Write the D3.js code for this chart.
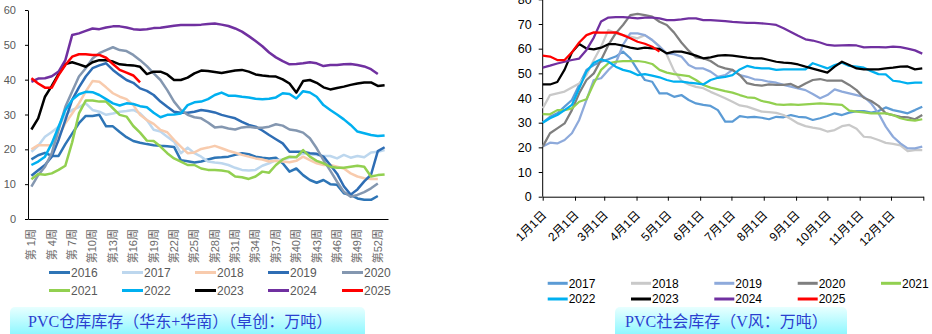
<!DOCTYPE html>
<html>
<head>
<meta charset="utf-8">
<script src="https://cdn.jsdelivr.net/npm/d3@7"></script>
<style>
  body { margin: 0; background: #fff; }
  svg { display: block; }
  text { font-family: "Liberation Sans", "Noto Sans CJK SC", sans-serif; }
</style>
</head>
<body>
<div id="chart"></div>
<script>
// ---- left chart data: PVC warehouse stock (east + south China), weekly, 10k t
const leftYears = ["2016", "2017", "2018", "2019", "2020", "2021", "2022", "2023", "2024", "2025"];
const weekLabels = ["第 1周", "第 4周", "第 7周", "第10周", "第13周", "第16周", "第19周", "第22周", "第25周",
  "第28周", "第31周", "第34周", "第37周", "第40周", "第43周", "第46周", "第49周", "第52周"];

const w2016 = [17.1,18.3,19.0,18.1,18.1,21.5,24.5,27.5,29.6,29.6,29.9,26.6,26.6,25.0,23.5,22.4,21.9,21.5,21.2,21.0,
  20.9,20.7,16.9,16.6,16.2,16.5,17.1,17.6,17.7,17.9,18.4,18.9,18.6,17.9,17.6,17.4,17.6,16.0,13.6,14.5,
  12.6,11.2,10.4,11.2,10.0,9.8,7.4,6.9,5.9,5.5,5.5,6.6];
const w2017 = [19.3,21.0,23.6,25.0,26.5,29.9,31.3,32.1,33.2,31.3,30.8,29.9,30.3,30.8,31.0,31.3,30.3,28.4,25.6,25.1,
  23.6,22.2,18.9,20.5,18.9,17.9,16.5,16.2,16.0,15.5,14.7,14.1,13.9,14.1,15.3,16.0,16.9,17.1,17.6,17.9,
  18.9,18.6,18.4,18.1,18.1,17.4,18.4,17.6,18.1,17.7,19.1,19.3,19.8];
const w2018 = [20.0,21.2,21.2,21.2,23.6,27.5,30.3,33.2,36.6,39.6,39.4,37.8,36.1,35.1,34.4,32.7,29.9,28.4,27.3,25.6,
  24.9,22.7,20.8,18.9,19.1,20.1,20.5,21.0,20.3,19.6,19.0,18.4,17.9,17.4,17.1,16.5,16.7,16.5,16.3,16.7,
  17.9,16.9,16.0,15.5,15.5,15.0,14.5,13.1,12.2,11.7,11.5,11.5];
const w2019 = [12.4,14.0,15.5,17.9,22.7,28.4,34.2,37.8,40.9,43.3,44.1,44.7,42.8,41.3,39.9,39.1,37.5,36.8,35.6,33.7,
  32.2,30.8,30.5,30.5,30.8,31.3,31.0,30.6,29.9,29.4,28.9,27.9,27.0,26.5,25.4,24.1,22.9,21.7,19.3,19.3,
  19.3,18.9,18.7,17.9,15.5,13.0,9.4,7.0,8.5,10.8,12.7,19.5,20.6];
const w2020 = [9.3,12.6,15.0,18.9,25.6,32.2,36.6,40.9,43.3,46.1,47.6,48.5,49.3,48.5,48.2,47.1,45.6,43.9,41.8,39.9,
  37.0,33.7,31.3,29.9,29.2,28.9,27.7,26.3,26.5,26.0,25.7,26.3,26.5,26.2,26.2,26.5,27.2,26.8,25.7,25.4,
  24.8,23.2,20.3,16.9,13.9,10.7,7.8,6.4,6.9,7.7,8.8,10.2];
const w2021 = [11.4,12.9,12.7,13.1,14.1,15.3,22.0,30.3,34.0,34.0,33.7,33.7,31.8,29.9,29.4,26.7,24.8,22.5,22.4,20.8,
  18.9,17.4,16.5,15.5,15.5,14.5,14.1,14.1,13.9,13.6,12.2,12.0,11.5,12.2,13.6,13.3,15.5,17.1,17.9,17.7,
  19.8,17.9,16.7,16.0,15.0,14.7,14.7,15.0,15.3,15.0,12.2,12.6,12.8];
const w2022 = [15.5,16.5,17.9,21.7,26.5,31.3,34.2,35.8,36.5,36.4,35.6,34.4,33.2,32.6,33.2,33.0,32.4,32.1,30.5,29.2,
  29.9,30.0,30.3,32.7,33.5,33.7,34.4,35.6,36.3,35.4,35.4,35.1,34.9,34.5,34.4,34.5,34.9,36.1,35.9,34.6,
  36.7,36.3,35.1,32.7,31.3,30.0,28.6,27.0,25.1,24.6,24.1,23.8,24.0];
const w2023 = [25.7,28.9,35.1,38.2,41.6,44.5,45.0,44.4,43.7,45.0,45.6,45.6,45.2,44.4,44.2,44.1,43.7,41.6,42.3,42.3,
  41.5,39.9,39.9,40.6,41.8,42.6,42.5,42.2,41.9,42.3,42.6,42.8,42.3,41.5,41.2,41.0,40.9,40.1,38.9,36.3,
  39.6,39.9,39.1,37.8,37.2,37.6,38.0,38.5,38.9,39.2,39.2,38.2,38.4];
const w2024 = [39.4,40.3,40.4,41.0,42.3,45.6,52.8,53.3,54.0,54.7,54.5,55.0,55.3,55.3,55.0,54.5,54.3,54.5,54.8,54.9,
  55.2,55.5,55.7,55.7,55.7,55.8,56.0,56.1,55.8,55.4,54.7,53.8,52.5,51.1,49.6,47.8,46.4,45.3,44.4,44.5,
  44.7,45.0,44.7,43.9,44.2,44.2,44.4,44.5,44.2,43.8,43.0,41.6];
const w2025 = [40.4,38.9,37.7,37.7,41.3,44.2,46.6,47.3,47.3,47.1,47.1,46.3,44.5,42.8,42.0,41.2,39.2];

// ---- right chart data: PVC social stock (V-feng), weekly from Jan 1, 10k t
const rightYears = ["2017", "2018", "2019", "2020", "2021", "2022", "2023", "2024", "2025"];
const monthLabels = ["1月1日", "2月1日", "3月1日", "4月1日", "5月1日", "6月1日", "7月1日", "8月1日", "9月1日",
  "10月1日", "11月1日", "12月1日"];

const r2017 = [30.0,32.4,33.8,36.5,39.2,45.3,51.4,53.4,54.7,55.7,56.8,58.8,56.1,51.4,47.3,46.6,41.9,41.9,40.5,41.2,
  39.2,37.8,37.2,36.8,35.1,30.4,30.4,32.7,32.2,32.4,32.0,31.4,32.4,32.2,33.1,32.4,32.2,31.1,31.8,32.7,
  33.8,33.1,34.1,34.7,34.7,34.1,34.7,36.2,35.1,34.5,33.8,35.1,36.5];
const r2018 = [35.8,41.2,41.9,42.6,44.3,45.9,49.3,55.4,60.8,67.6,66.2,65.5,64.9,64.2,65.5,63.5,61.0,57.5,51.0,47.0,
  45.5,44.5,44.0,42.5,41.2,39.9,38.5,37.0,36.5,35.5,34.5,34.3,34.0,33.1,31.5,29.7,28.6,28.0,27.5,26.4,
  27.0,28.6,29.1,27.5,24.3,24.0,23.0,21.8,21.4,20.8,18.5,18.9,18.9];
const r2019 = [20.3,21.9,21.6,23.0,25.7,31.1,39.2,47.3,48.0,51.4,54.1,61.5,66.2,66.2,65.5,63.5,60.8,58.1,57.8,56.8,
  53.4,52.0,52.0,50.7,48.6,49.3,51.4,49.3,48.6,47.6,47.3,46.6,46.2,45.3,44.6,43.9,43.2,41.6,39.9,41.2,
  43.5,42.6,41.9,41.2,40.5,37.8,33.8,28.4,24.3,21.6,19.6,19.6,20.3];
const r2020 = [20.3,25.7,27.7,29.7,35.1,41.9,47.3,50.0,55.4,61.5,66.2,69.6,73.6,74.1,73.6,73.0,70.9,69.6,66.5,62.5,
  59.2,56.5,56.1,55.0,53.0,52.0,51.4,49.3,46.0,45.3,45.0,45.5,45.3,45.3,45.7,44.3,45.9,47.3,47.7,47.0,
  47.0,47.0,45.3,43.2,40.1,38.8,36.8,33.8,33.1,32.4,32.2,31.4,33.1];
const r2021 = [33.5,33.4,35.1,35.1,35.8,38.5,39.5,45.9,51.4,54.1,54.7,55.0,55.0,55.0,54.6,53.8,51.4,50.3,49.7,49.3,
  48.9,47.3,45.3,44.2,43.5,42.8,42.2,41.2,40.3,40.1,38.8,38.2,37.4,37.2,37.4,37.2,37.4,37.6,37.8,37.6,
  37.4,37.2,34.9,34.5,34.2,33.8,33.8,33.8,33.1,31.8,31.1,30.8,31.4];
const r2022 = [30.0,31.8,33.1,35.1,37.2,43.9,50.7,54.3,55.7,54.7,52.7,51.4,50.7,49.3,49.7,49.1,48.4,47.3,46.6,46.6,
  46.2,45.9,45.5,47.3,48.2,48.6,49.3,51.6,53.0,52.3,52.0,52.0,51.4,51.6,51.6,51.6,51.6,54.1,53.1,52.0,
  53.4,54.3,53.0,52.7,52.3,50.9,49.7,49.6,47.0,46.6,45.9,46.2,46.2];
const r2023 = [45.5,45.5,46.5,51.5,58.5,61.9,60.1,59.7,60.4,61.8,61.8,61.2,60.4,59.9,60.4,60.1,59.9,58.1,58.8,58.8,
  58.1,57.2,56.1,56.5,57.2,57.4,57.2,56.8,56.4,56.1,56.1,55.4,54.7,54.3,54.1,53.6,52.7,51.9,51.1,50.3,
  52.7,54.7,53.4,52.0,51.6,51.6,51.6,52.0,52.3,52.7,52.8,51.6,52.0];
const r2024 = [52.3,53.1,54.0,54.7,55.4,56.0,59.5,64.5,71.0,72.6,72.8,72.8,72.6,72.3,72.6,72.6,72.3,71.6,71.6,71.9,
  72.3,72.3,71.6,71.6,71.4,71.2,70.9,70.7,70.5,70.5,70.3,70.0,69.6,68.3,66.8,65.2,63.8,63.3,62.5,61.5,
  61.2,61.3,61.4,61.3,60.5,60.6,60.6,60.5,60.8,60.6,60.0,59.3,58.0];
const r2025 = [57.2,56.8,55.4,55.4,58.5,62.5,65.5,66.6,66.5,66.5,66.6,65.5,64.2,62.8,62.0,60.8,58.8];

const leftSeries = [w2016, w2017, w2018, w2019, w2020, w2021, w2022, w2023, w2024, w2025];
const rightSeries = [r2017, r2018, r2019, r2020, r2021, r2022, r2023, r2024, r2025];

const leftColors = ["#2e75b6", "#bdd7ee", "#f8cbad", "#2e6db4", "#8497b0", "#92d050", "#00b0f0", "#000000", "#7030a0", "#ff0000"];
const rightColors = ["#5b9bd5", "#c9c9c9", "#8eaadb", "#7f7f7f", "#92d050", "#00b0f0", "#000000", "#7030a0", "#ff0000"];

const width = 932, height = 334;

let svg = d3.select("#chart")
  .append("svg")
  .attr("width", width)
  .attr("height", height);

// title box gradient
let grad = svg.append("defs").append("linearGradient")
  .attr("id", "boxFill")
  .attr("x1", 0).attr("y1", 0).attr("x2", 0).attr("y2", 1);
grad.append("stop").attr("offset", "0%").attr("stop-color", "#e8ffff");
grad.append("stop").attr("offset", "100%").attr("stop-color", "#80f6ff");

// ================= left chart =================
const L = { left: 28, right: 388, top: 10, bottom: 219 };

let xL = d3.scaleBand()
  .domain(d3.range(1, 54)) // week 1..53
  .range([L.left, L.right]);

let yL = d3.scaleLinear()
  .domain([0, 60])
  .range([L.bottom, L.top]);

let gyL = svg.append("g")
  .attr("transform", `translate(${L.left},0)`)
  .call(d3.axisLeft(yL).tickValues(d3.range(0, 61, 10)).tickSize(3).tickPadding(9).tickSizeOuter(0));
gyL.selectAll("path, line").attr("stroke", "#000");
gyL.selectAll("text").attr("fill", "#595959").style("font-size", "11px");

let gxL = svg.append("g")
  .attr("transform", `translate(0,${L.bottom})`)
  .call(d3.axisBottom(xL)
    .tickValues(weekLabels.map((d, i) => 1 + i * 3))
    .tickFormat((d, i) => weekLabels[i])
    .tickSize(0).tickSizeOuter(0));
gxL.select("path").attr("stroke", "#000");
gxL.selectAll("text")
  .attr("transform", "rotate(-90)")
  .attr("text-anchor", "end")
  .attr("x", -10)
  .attr("y", 0)
  .attr("dy", "0.35em")
  .attr("fill", "#6b6b6b")
  .style("font-size", "11px");

let lineL = d3.line()
  .x((d, i) => xL(i + 1) + xL.bandwidth() / 2)
  .y(d => yL(d));

svg.append("g")
  .selectAll("path")
  .data(leftSeries)
  .join("path")
  .attr("d", lineL)
  .attr("fill", "none")
  .attr("stroke", (d, i) => leftColors[i])
  .attr("stroke-width", 2.5)
  .attr("stroke-linejoin", "round");

// ================= right chart =================
const R = { left: 542.7, right: 923.3, bottom: 196.7 };
const yearStart = new Date(2025, 0, 1), yearEnd = new Date(2026, 0, 1);

let xR = d3.scaleTime()
  .domain([yearStart, yearEnd])
  .range([R.left, R.right]);

let yR = d3.scaleLinear()
  .domain([0, 70])
  .range([R.bottom, 24]);

let gyR = svg.append("g")
  .attr("transform", `translate(${R.left},0)`)
  .call(d3.axisLeft(yR).tickValues(d3.range(0, 81, 10)).tickSize(4).tickPadding(7).tickSizeOuter(0));
gyR.select("path").attr("d", `M0,${R.bottom}V${yR(80)}`);
gyR.selectAll("path, line").attr("stroke", "#000");
gyR.selectAll("text").attr("fill", "#000").style("font-size", "12.5px");

let monthTicks = d3.timeMonth.range(yearStart, d3.timeDay.offset(yearEnd, 1));
let gxR = svg.append("g")
  .attr("transform", `translate(0,${R.bottom})`)
  .call(d3.axisBottom(xR)
    .tickValues(monthTicks)
    .tickFormat((d, i) => monthLabels[i] || "")
    .tickSize(4).tickSizeOuter(0));
gxR.selectAll("path, line").attr("stroke", "#000");
gxR.selectAll("text")
  .attr("transform", "translate(1,16) rotate(-45)")
  .attr("text-anchor", "end")
  .attr("x", 0)
  .attr("y", 0)
  .attr("dy", "0.35em")
  .attr("fill", "#000")
  .style("font-size", "12px");

let lineR = d3.line()
  .x((d, i) => xR(d3.timeDay.offset(yearStart, i * 7)))
  .y(d => yR(d));

svg.append("g")
  .selectAll("path")
  .data(rightSeries)
  .join("path")
  .attr("d", lineR)
  .attr("fill", "none")
  .attr("stroke", (d, i) => rightColors[i])
  .attr("stroke-width", 2.25)
  .attr("stroke-linejoin", "round");

// ================= legends =================
function legend(years, colors, cols, rows, len, textColor) {
  let item = svg.append("g")
    .selectAll("g")
    .data(years)
    .join("g")
    .attr("transform", (d, i) => `translate(${cols[i % 5]},${rows[Math.floor(i / 5)]})`);
  item.append("line")
    .attr("x1", 0).attr("x2", len)
    .attr("stroke", (d, i) => colors[i])
    .attr("stroke-width", 3);
  item.append("text")
    .attr("x", len + 1)
    .attr("dy", "0.35em")
    .attr("fill", textColor)
    .style("font-size", "12px")
    .text(d => d);
}
legend(leftYears, leftColors, [49, 122, 195, 268, 342], [272.5, 290.5], 21, "#595959");
legend(rightYears, rightColors, [547.7, 631, 714.3, 797.7, 881], [283.3, 299], 20, "#000");

// ================= title boxes =================
function titleBox(x, w, tx, label) {
  svg.append("rect")
    .attr("x", x).attr("y", 307)
    .attr("width", w).attr("height", 32)
    .attr("rx", 5)
    .attr("fill", "url(#boxFill)");
  svg.append("text")
    .attr("x", tx).attr("y", 327)
    .attr("fill", "#2b3fd0")
    .style("font-family", "'Liberation Serif', 'Noto Sans CJK SC', serif")
    .style("font-size", "16px")
    .text(label);
}
titleBox(10, 355, 28, "PVC仓库库存（华东+华南）（卓创：万吨）");
titleBox(615, 232, 625, "PVC社会库存（V风：万吨）");
</script>
</body>
</html>
